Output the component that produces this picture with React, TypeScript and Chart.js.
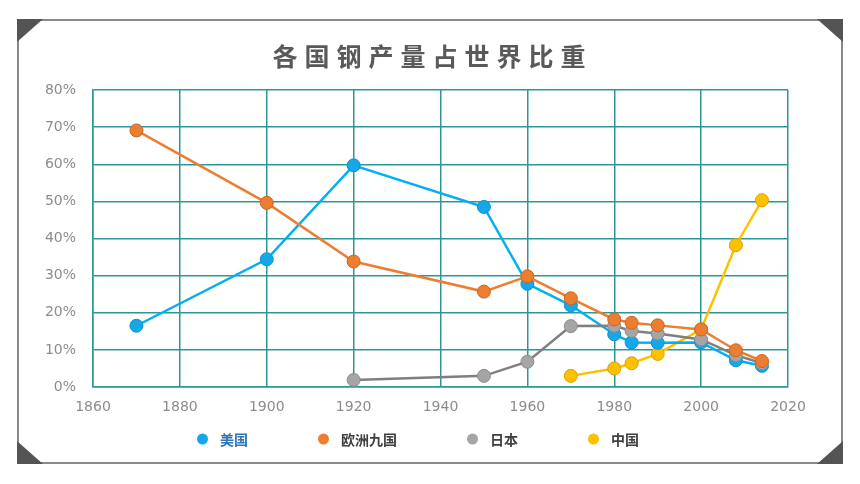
import React, { useEffect, useRef } from "react";
import { Chart, registerables } from "chart.js";

Chart.register(...registerables);

// ---------- data ----------
const chartTitle = "各国钢产量占世界比重";
const years = [1870, 1900, 1920, 1950, 1960, 1970, 1980, 1984, 1990, 2000, 2008, 2014];
const seriesNames = ["美国", "欧洲九国", "日本", "中国"];
const usaShare: (number | null)[] = [16.5, 34.4, 59.7, 48.5, 27.8, 22.0, 14.2, 12.0, 11.9, 12.0, 7.2, 5.7];
const europeShare: (number | null)[] = [69.1, 49.6, 33.8, 25.7, 29.8, 23.9, 18.2, 17.3, 16.6, 15.5, 9.9, 7.0];
const japanShare: (number | null)[] = [null, null, 1.9, 3.0, 6.8, 16.4, 16.5, 15.1, 14.4, 12.8, 8.6, 6.4];
const chinaShare: (number | null)[] = [null, null, null, null, null, 3.0, 5.0, 6.4, 8.9, 15.5, 38.2, 50.3];
const xMin = 1860;
const xMax = 2020;
const xStep = 20;
const yMin = 0;
const yMax = 80;
const yStep = 10;

// ---------- styles ----------
const lineColors = ["#00b0f0", "#ed7d31", "#7f7f7f", "#ffc000"];
const pointFills = ["#12a8ea", "#ed7d31", "#a5a5a5", "#ffc000"];
const pointBorders = ["#1590c9", "#c9671f", "#8c8c8c", "#d9a300"];
const legendTextColors = ["#2e75b6", "#404040", "#404040", "#404040"];
const drawOrders = [2, 0, 1, 3];
const gridColor = "#2b979b";

const W = 860;
const H = 484;

function toPoints(values: (number | null)[]) {
  const pts: { x: number; y: number }[] = [];
  values.forEach((v, i) => {
    if (v !== null) pts.push({ x: years[i], y: v });
  });
  return pts;
}

const allSeries = [usaShare, europeShare, japanShare, chinaShare];

const decorPlugin = {
  id: "decor",
  beforeDraw(chart: any) {
    const ctx = chart.ctx as CanvasRenderingContext2D;
    ctx.save();
    ctx.fillStyle = "#ffffff";
    ctx.fillRect(0, 0, chart.width, chart.height);
    // frame
    const L = 18, T = 20, R = 842, B = 463;
    ctx.strokeStyle = "#8a8a8a";
    ctx.lineWidth = 2;
    ctx.strokeRect(L, T, R - L, B - T);
    ctx.fillStyle = "#545454";
    const tri = (a: number[], b: number[], c: number[]) => {
      ctx.beginPath();
      ctx.moveTo(a[0], a[1]);
      ctx.lineTo(b[0], b[1]);
      ctx.lineTo(c[0], c[1]);
      ctx.closePath();
      ctx.fill();
    };
    tri([L - 1, T - 1], [L + 25, T - 1], [L - 1, T + 22]);
    tri([R + 1, T - 1], [R - 25, T - 1], [R + 1, T + 22]);
    tri([L - 1, B + 1], [L - 1, B - 22], [L + 25, B + 1]);
    tri([R + 1, B + 1], [R + 1, B - 22], [R - 25, B + 1]);
    ctx.restore();
  },
  afterDraw(chart: any) {
    const ctx = chart.ctx as CanvasRenderingContext2D;
    ctx.save();
    // title
    const ls = 7;
    ctx.font = "bold 25px 'Noto Sans CJK SC', sans-serif";
    (ctx as any).letterSpacing = ls + "px";
    ctx.fillStyle = "#595959";
    ctx.textBaseline = "middle";
    ctx.textAlign = "left";
    const tw = ctx.measureText(chartTitle).width - ls;
    ctx.fillText(chartTitle, 429 - tw / 2, 56);
    (ctx as any).letterSpacing = "0px";

    // legend
    ctx.font = "bold 14px 'Noto Sans CJK SC', sans-serif";
    const r = 5.5;
    const gapDotText = 12;
    const gapItems = 70;
    const items = chart.data.datasets.map((ds: any, i: number) => {
      const w = ctx.measureText(ds.label).width;
      return { label: ds.label, w, i };
    });
    let total = 0;
    items.forEach((it: any, k: number) => {
      total += 2 * r + gapDotText + it.w + (k < items.length - 1 ? gapItems : 0);
    });
    let x = 418 - total / 2;
    const y = 439;
    items.forEach((it: any) => {
      ctx.beginPath();
      ctx.arc(x + r, y, r, 0, Math.PI * 2);
      ctx.fillStyle = pointFills[it.i];
      ctx.fill();
      x += 2 * r + gapDotText;
      ctx.fillStyle = legendTextColors[it.i];
      ctx.fillText(it.label, x, y + 1);
      x += it.w + gapItems;
    });
    ctx.restore();
  },
};

export default function App() {
  const ref = useRef<HTMLCanvasElement | null>(null);

  useEffect(() => {
    if (!ref.current) return;
    const datasets = allSeries.map((vals, i) => ({
      label: seriesNames[i],
      data: toPoints(vals),
      borderColor: lineColors[i],
      backgroundColor: pointFills[i],
      pointBackgroundColor: pointFills[i],
      pointBorderColor: pointBorders[i],
      pointBorderWidth: 1,
      pointRadius: 6.5,
      pointHoverRadius: 6.5,
      borderWidth: 2.5,
      tension: 0,
      fill: false,
      order: drawOrders[i],
    }));
    const chart = new Chart(ref.current, {
      type: "line",
      data: { datasets },
      options: {
        responsive: false,
        animation: false,
        events: [],
        layout: { padding: { left: 20, right: 72, top: 90, bottom: 67 } },
        plugins: {
          legend: { display: false },
          title: { display: false },
          tooltip: { enabled: false },
        },
        scales: {
          x: {
            type: "linear",
            min: xMin,
            max: xMax,
            afterFit: (s: any) => {
              s.height = 30;
            },
            ticks: {
              stepSize: xStep,
              padding: 12,
              color: "#8c8c8c",
              font: { family: "'DejaVu Sans', sans-serif", size: 14 },
              callback: (v: any) => String(v),
            },
            grid: { color: gridColor, lineWidth: 1.5, drawTicks: false },
            border: { color: gridColor, width: 1.5 },
          },
          y: {
            min: yMin,
            max: yMax,
            afterFit: (s: any) => {
              s.width = 73;
            },
            ticks: {
              stepSize: yStep,
              padding: 17,
              color: "#8c8c8c",
              font: { family: "'DejaVu Sans', sans-serif", size: 14 },
              callback: (v: any) => v + "%",
            },
            grid: { color: gridColor, lineWidth: 1.5, drawTicks: false },
            border: { color: gridColor, width: 1.5 },
          },
        },
      },
      plugins: [decorPlugin],
    });
    return () => chart.destroy();
  }, []);

  return (
    <div style={{ position: "fixed", left: 0, top: 0, width: W, height: H, background: "#fff" }}>
      <canvas ref={ref} width={W} height={H} style={{ display: "block", width: W, height: H }} />
    </div>
  );
}
